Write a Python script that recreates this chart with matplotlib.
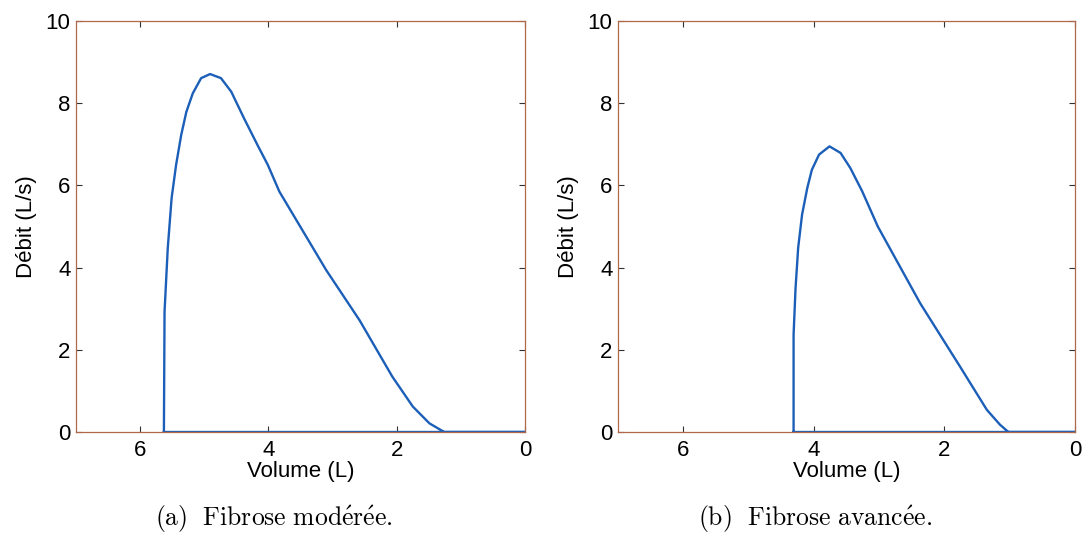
import matplotlib.pyplot as plt

plt.rcParams['font.family'] = ['Liberation Sans', 'DejaVu Sans']
plt.rcParams['mathtext.fontset'] = 'cm'

# courbes debit-volume
vol_a = [5.63, 5.62, 5.57, 5.51, 5.44, 5.36, 5.28, 5.18, 5.05, 4.91, 4.74, 4.58,
         4.38, 4.17, 4.01, 3.83, 3.10, 2.58, 2.07, 1.75, 1.49, 1.26, 0.0, 5.63]
flow_a = [0.0, 2.93, 4.47, 5.69, 6.50, 7.23, 7.79, 8.24, 8.61, 8.71, 8.61, 8.28,
          7.63, 6.98, 6.50, 5.85, 3.94, 2.72, 1.35, 0.62, 0.21, 0.0, 0.0, 0.0]

vol_b = [4.31, 4.31, 4.28, 4.24, 4.18, 4.10, 4.03, 3.92, 3.76, 3.59, 3.44, 3.26,
         3.02, 2.37, 1.76, 1.35, 1.15, 1.02, 0.0, 4.31]
flow_b = [0.0, 2.37, 3.50, 4.48, 5.29, 5.94, 6.38, 6.75, 6.95, 6.79, 6.42, 5.86,
          5.00, 3.13, 1.59, 0.54, 0.18, 0.0, 0.0, 0.0]

captions = [r'$\mathrm{(a)\ \ Fibrose\ mod\acute{e}r\acute{e}e.}$',
            r'$\mathrm{(b)\ \ Fibrose\ avanc\acute{e}e.}$']

fig = plt.figure(figsize=(10.83, 5.35), dpi=100)
ax1 = fig.add_axes([0.0702, 0.1925, 0.4146, 0.7682])
ax2 = fig.add_axes([0.5706, 0.1925, 0.4220, 0.7682])

for ax, v, f in [(ax1, vol_a, flow_a), (ax2, vol_b, flow_b)]:
    ax.plot(v, f, color='#1c5fb8', lw=1.7, solid_joinstyle='round')
    ax.set_xlim(7, 0)
    ax.set_ylim(0, 10)
    ax.set_xticks([6, 4, 2, 0])
    ax.set_yticks([0, 2, 4, 6, 8, 10])
    ax.tick_params(direction='in', length=4, width=0.8, color='#333333',
                   labelsize=16, top=True, right=True, pad=6)
    ax.tick_params(axis='y', pad=4)
    for s in ax.spines.values():
        s.set_color('#b0684a')
        s.set_linewidth(0.9)
    ax.set_xlabel('Volume (L)', fontsize=16, labelpad=0)
    ax.set_ylabel('Débit (L/s)', fontsize=16, labelpad=6)

fig.text(0.253, 0.016, captions[0], fontsize=18.5, ha='center', va='baseline')
fig.text(0.753, 0.016, captions[1], fontsize=18.5, ha='center', va='baseline')

plt.savefig('out.png', dpi=100)
